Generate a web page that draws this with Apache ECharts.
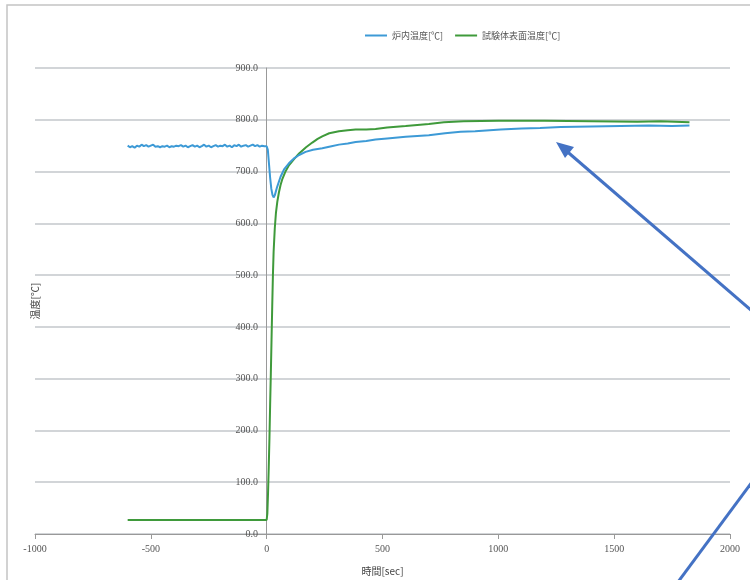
<!DOCTYPE html>
<html>
<head>
<meta charset="utf-8">
<script src="https://cdn.jsdelivr.net/npm/echarts@6/dist/echarts.min.js"></script>
<style>
  html, body { margin: 0; padding: 0; background: #fff; }
  #chart { width: 750px; height: 580px; }
</style>
</head>
<body>
<div id="chart"></div>
<script>
const seriesNames = ['炉内温度[℃]', '試験体表面温度[℃]']
const xTicks = { min: -1000, max: 2000, interval: 500 }
const yTicks = { min: 0, max: 900, interval: 100 }

// 炉内温度 [sec, ℃]
const furnaceTemp = [
  [-600, 750], [-590, 747], [-580, 749], [-570, 746], [-560, 750], [-550, 748], [-540, 752], [-530, 749],
  [-520, 751], [-510, 748], [-500, 750], [-490, 752], [-480, 748], [-470, 749], [-460, 747], [-450, 749],
  [-440, 748], [-430, 750], [-420, 747], [-410, 749], [-400, 748], [-390, 750], [-380, 749], [-370, 751],
  [-360, 748], [-350, 750], [-340, 747], [-330, 749], [-320, 751], [-310, 748], [-300, 750], [-290, 747],
  [-280, 749], [-270, 752], [-260, 748], [-250, 750], [-240, 747], [-230, 749], [-220, 751], [-210, 748],
  [-200, 750], [-190, 749], [-180, 752], [-170, 748], [-160, 750], [-150, 747], [-140, 751], [-130, 749],
  [-120, 752], [-110, 748], [-100, 750], [-90, 751], [-80, 748], [-70, 750], [-60, 752], [-50, 749],
  [-40, 751], [-30, 748], [-20, 750], [-10, 749], [0, 749],
  [5, 742], [10, 715], [15, 688], [20, 667], [25, 655], [30, 650], [35, 654], [45, 670], [60, 690],
  [75, 704], [96, 716], [120, 726], [140, 732], [168, 738], [200, 742], [240, 745], [280, 749],
  [312, 752], [350, 754], [384, 757], [430, 759], [470, 762], [520, 764], [600, 767], [700, 770],
  [770, 774], [837, 777], [900, 778], [1010, 781], [1100, 783], [1180, 784], [1269, 786], [1400, 787],
  [1528, 788], [1650, 789], [1750, 788], [1825, 789]
]

// 試験体表面温度 [sec, ℃]
const specimenTemp = [
  [-600, 27], [-300, 27], [0, 27],
  [3, 40], [6, 80], [9, 130], [12, 185], [15, 250], [18, 310], [21, 375], [24, 440], [27, 500],
  [30, 545], [35, 590], [40, 620], [46, 642], [53, 660], [60, 674], [68, 686], [80, 699], [96, 712],
  [120, 725], [140, 735], [170, 747], [197, 756], [220, 763], [240, 768], [270, 774], [312, 778],
  [350, 780], [384, 781], [430, 781], [470, 782], [520, 785], [600, 788], [700, 792], [765, 795],
  [850, 797], [1000, 798], [1200, 798], [1400, 797], [1600, 796], [1700, 797], [1825, 795]
]

const chart = echarts.init(document.getElementById('chart'))

const labelFont = { color: '#555', fontSize: 10, fontFamily: 'Liberation Serif' }

chart.setOption({
  backgroundColor: '#fff',
  animation: false,
  color: ['#3d9ad6', '#3f9a3b'],
  legend: {
    top: 26,
    left: 360,
    icon: 'rect',
    itemWidth: 22,
    itemHeight: 2,
    itemGap: 12,
    textStyle: { color: '#555', fontSize: 9, fontFamily: 'Noto Sans CJK JP' },
    data: seriesNames,
  },
  grid: { left: 35, right: 20, top: 68, bottom: 46, containLabel: false, outerBoundsMode: 'none' },
  xAxis: {
    type: 'value',
    min: xTicks.min, max: xTicks.max, interval: xTicks.interval,
    name: '時間[sec]',
    nameLocation: 'middle',
    nameGap: 32,
    nameTextStyle: { color: '#444', fontSize: 10, fontFamily: 'Noto Sans CJK JP' },
    axisLine: { lineStyle: { color: '#999', width: 1 } },
    axisTick: { show: true, length: 5, lineStyle: { color: '#999' } },
    axisLabel: { ...labelFont, margin: 10, formatter: v => String(v) },
    splitLine: { show: false },
  },
  yAxis: {
    type: 'value',
    min: yTicks.min, max: yTicks.max, interval: yTicks.interval,
    // 軸をx=0の位置へずらす (グリッド左端から231px)
    offset: -231,
    name: '温度[℃]',
    nameLocation: 'middle',
    nameRotate: 90,
    nameGap: 226,
    nameTextStyle: { color: '#444', fontSize: 10, fontFamily: 'Noto Sans CJK JP' },
    axisLine: { show: true, onZero: false, lineStyle: { color: '#999', width: 1 } },
    axisTick: { show: false },
    axisLabel: { ...labelFont, margin: 8, formatter: v => v.toFixed(1) },
    splitLine: { show: true, lineStyle: { color: '#c3c7cb', width: 1.5 } },
  },
  graphic: [
    { type: 'rect', shape: { x: 7, y: 5, width: 800, height: 700 }, style: { fill: 'none', stroke: '#c4c4c4', lineWidth: 1.5 }, z: -1 },
    { type: 'line', shape: { x1: 563, y1: 148, x2: 752, y2: 311 }, style: { stroke: '#4472c4', lineWidth: 3 }, z: 100 },
    { type: 'polygon', shape: { points: [[556, 142], [574, 147], [565, 158]] }, style: { fill: '#4472c4' }, z: 100 },
    { type: 'line', shape: { x1: 752, y1: 482, x2: 678, y2: 582 }, style: { stroke: '#4472c4', lineWidth: 3 }, z: 100 },
  ],
  series: [
    {
      name: seriesNames[0],
      type: 'line',
      data: furnaceTemp,
      showSymbol: false,
      lineStyle: { width: 2 },
      z: 3,
    },
    {
      name: seriesNames[1],
      type: 'line',
      data: specimenTemp,
      showSymbol: false,
      lineStyle: { width: 2 },
      z: 2,
    },
  ],
})
</script>
</body>
</html>
